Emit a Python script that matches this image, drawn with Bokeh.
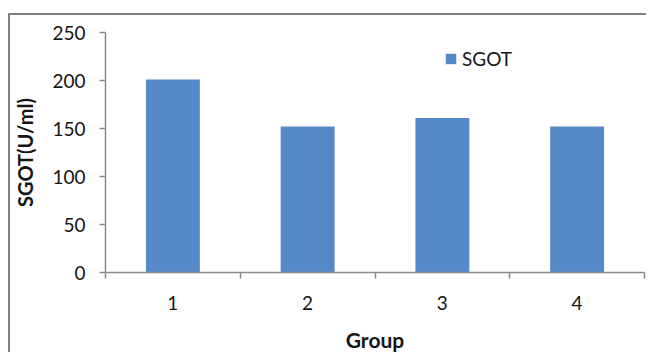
from bokeh.plotting import figure
from bokeh.models import Range1d, FixedTicker, Legend, LegendItem, ColumnDataSource
from bokeh.embed import file_html
from bokeh.resources import INLINE

# Data
groups = ["1", "2", "3", "4"]
sgot = [201, 152, 161, 152]
y_ticks = [0, 50, 100, 150, 200, 250]

FONT = "Lato"
AXIS_GRAY = "#8a8a8a"
BAR_BLUE = "#5589c9"
TEXT = "#151515"

# bar centres sit in the middle of each category slot
centers = [i + 0.5 for i in range(len(groups))]
src = ColumnDataSource(dict(x=centers, top=sgot, group=groups))

p = figure(width=638, height=339, output_backend="svg", toolbar_location=None,
           x_range=Range1d(0, len(groups)), y_range=Range1d(0, 250),
           min_border_left=94, min_border_right=4,
           min_border_top=17, min_border_bottom=78)
p.outline_line_color = None
p.grid.visible = False
p.background_fill_color = "white"
p.border_fill_color = "white"
# chart-area border (top and left edges; the rest runs off the page)
p.styles = {
    "border-top": "2px solid #7f7f7f",
    "border-left": "2px solid #7f7f7f",
    "margin": "13px 0 0 8px",
}

r = p.vbar(x="x", top="top", width=0.4, bottom=0, source=src,
           fill_color=BAR_BLUE, line_color=None)

# x axis: labels at slot centres, tick marks on slot boundaries
xa = p.xaxis[0]
xa.ticker = FixedTicker(ticks=centers, minor_ticks=list(range(len(groups) + 1)))
xa.major_label_overrides = {c: g for c, g in zip(centers, groups)}
xa.major_tick_out = 0
xa.major_tick_in = 0
xa.minor_tick_out = 6
xa.minor_tick_in = 0
xa.minor_tick_line_color = AXIS_GRAY
xa.minor_tick_line_width = 1.5
xa.axis_line_color = AXIS_GRAY
xa.axis_line_width = 1.5
xa.major_label_standoff = 17
xa.major_label_text_font = FONT
xa.major_label_text_font_size = "19px"
xa.major_label_text_color = TEXT
xa.axis_label = "Group"
xa.axis_label_text_font = FONT
xa.axis_label_text_font_style = "bold"
xa.axis_label_text_font_size = "21px"
xa.axis_label_text_color = TEXT
xa.axis_label_standoff = 14

# y axis
ya = p.yaxis[0]
ya.ticker = FixedTicker(ticks=y_ticks)
ya.minor_tick_line_color = None
ya.major_tick_out = 6
ya.major_tick_in = 0
ya.major_tick_line_color = AXIS_GRAY
ya.major_tick_line_width = 1.5
ya.axis_line_color = AXIS_GRAY
ya.axis_line_width = 1.5
ya.major_label_standoff = 14
ya.major_label_text_font = FONT
ya.major_label_text_font_size = "19px"
ya.major_label_text_color = TEXT
ya.axis_label = "SGOT(U/ml)"
ya.axis_label_text_font = FONT
ya.axis_label_text_font_style = "bold"
ya.axis_label_text_font_size = "20px"
ya.axis_label_text_color = TEXT
ya.axis_label_standoff = 12

# legend
legend = Legend(items=[LegendItem(label="SGOT", renderers=[r])],
                location=(339, 202), orientation="vertical",
                glyph_width=13, glyph_height=13, label_standoff=5,
                label_text_font=FONT, label_text_font_size="19px",
                label_text_color=TEXT,
                padding=0, margin=0, spacing=0,
                border_line_color=None, background_fill_alpha=0)
p.add_layout(legend, "center")

open("out.html", "w").write(file_html(p, INLINE))
